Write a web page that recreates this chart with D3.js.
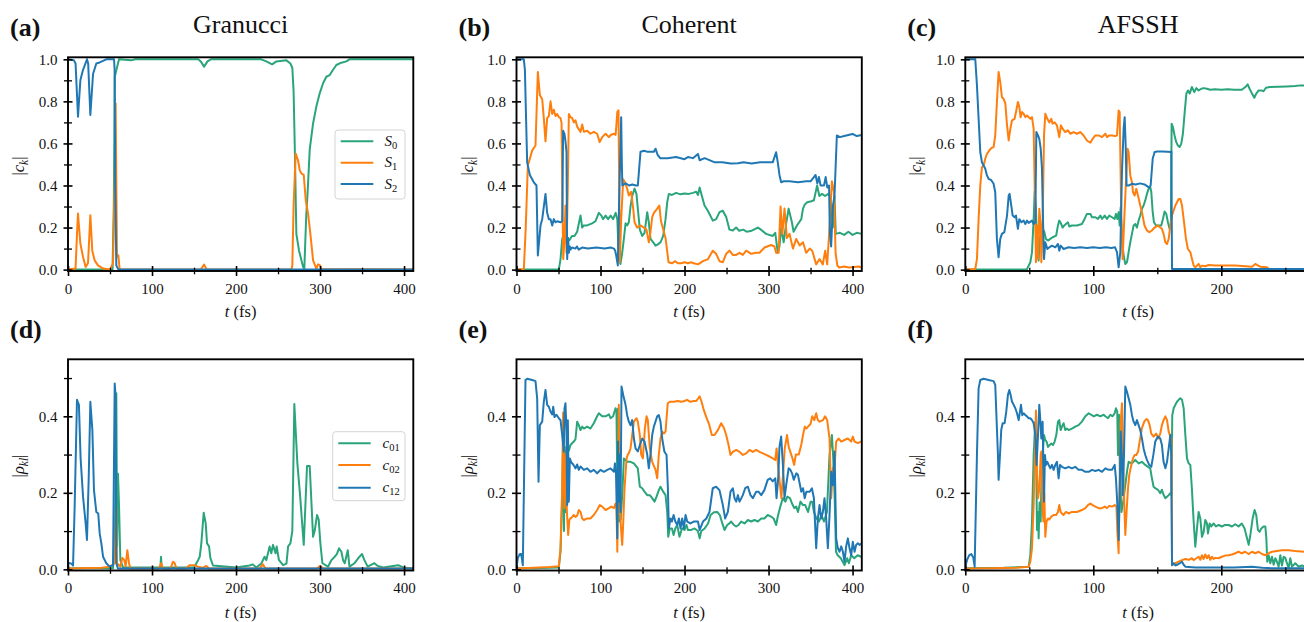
<!DOCTYPE html>
<html><head><meta charset="utf-8">
<script src="https://cdn.jsdelivr.net/npm/d3@7"></script>
<style>
html,body{margin:0;padding:0;background:#fff;}
svg{display:block;}
text{font-family:"Liberation Serif","DejaVu Serif",serif;fill:#111;}
</style></head><body>
<svg id="fig" width="1304" height="622"></svg>
<script>
// ---- labels and ticks ----
const methods = ["Granucci", "Coherent", "AFSSH"];
const panelLetters = [["(a)", "(b)", "(c)"], ["(d)", "(e)", "(f)"]];
const popMajorTicks = [0, 0.2, 0.4, 0.6, 0.8, 1.0];
const popMinorTicks = [0.1, 0.3, 0.5, 0.7, 0.9];
const cohMajorTicks = [0, 0.2, 0.4];
const cohMinorTicks = [0.1, 0.3, 0.5];
const timeMajorLong = [0, 100, 200, 300, 400];
const timeMinorLong = [50, 150, 250, 350];
const timeMajorShort = [0, 100, 200];
const timeMinorShort = [50, 150, 250];
const tMaxLong = 411, tMaxShort = 270;
const popLegend = ["0", "1", "2"];
const cohLegend = ["01", "02", "12"];

// ---- |c_k| : Granucci ----
const granS0 = [[0,0],[53,0],[54.5,0.3],[55.7,0.917],[57,0.94],[60.7,1.0],[75,0.995],[80,1.0],[155,1.0],[158,0.99],[162,0.965],[166,0.99],[170,1.0],[230,1.0],[236,0.99],[243,0.976],[248,0.99],[260,0.995],[264.7,0.98],[267,0.96],[268.5,0.85],[270,0.57],[271.8,0.17],[275,0.09],[279.8,0.013],[281.3,0.005],[283.5,0.25],[285.5,0.39],[287.7,0.57],[291.7,0.695],[295.6,0.775],[299.6,0.838],[303.6,0.886],[307.5,0.917],[311.5,0.925],[315.5,0.95],[319.4,0.973],[325.4,0.984],[331.3,0.99],[335,1.0],[411,1.0]];
const granS1 = [[0,0],[9,0.005],[10.5,0.15],[11.9,0.267],[14.7,0.124],[17.9,0.06],[21,0.013],[23.8,0.03],[26.6,0.259],[28.9,0.09],[31.7,0.044],[35.7,0.02],[41.7,0.005],[50,0.0],[53.6,0.03],[55.5,0.4],[56.7,0.79],[58.3,0.06],[59.9,0.068],[61.5,0.0],[158,0],[162,0.024],[165,0],[266,0],[267,0.02],[268.5,0.3],[271,0.552],[273.8,0.52],[275.8,0.473],[277.8,0.457],[280.6,0.45],[283,0.33],[285.7,0.267],[288.5,0.17],[291.7,0.044],[295.6,0.005],[297.6,0.025],[300,0.02],[301.6,0.003],[411,0]];
const granS2 = [[0,1.0],[7,0.995],[9,0.98],[11.9,0.727],[14.7,0.9],[17.9,0.95],[22.6,1.0],[24,0.98],[26.6,0.735],[29.8,0.93],[33.7,0.98],[37.7,0.985],[45.6,1.0],[54.8,1.0],[55.5,0.95],[56.2,0.4],[57.5,0.02],[60,0.0],[411,0.0]];

// ---- |c_k| : Coherent ----
const cohS0 = [[0,0],[50.4,0],[52.4,0.05],[54.4,0.146],[56,0.16],[58,0.14],[61,0.14],[63,0.14],[66,0.16],[69,0.16],[72.2,0.18],[74.2,0.22],[76.2,0.257],[78.2,0.2],[80,0.21],[84,0.21],[90,0.22],[94,0.23],[98,0.27],[101,0.257],[103,0.24],[106,0.257],[109,0.24],[112,0.257],[115,0.24],[118,0.27],[120,0.24],[121.8,0.05],[123.8,0.027],[125.8,0.08],[127.8,0.146],[129.8,0.22],[131.7,0.21],[133.7,0.225],[135.7,0.3],[137.7,0.35],[140.5,0.385],[142.8,0.36],[144.4,0.29],[146.8,0.19],[149.6,0.16],[152.4,0.175],[155.6,0.273],[157.5,0.225],[159.5,0.146],[162.7,0.13],[165.5,0.114],[168.3,0.12],[171.4,0.13],[174.6,0.16],[177.4,0.24],[179.4,0.32],[181.3,0.36],[185,0.355],[190,0.365],[195,0.358],[200,0.362],[205,0.36],[210,0.365],[214,0.37],[216,0.355],[218,0.39],[220,0.36],[223.8,0.305],[227.7,0.28],[233.7,0.233],[237.7,0.24],[241.6,0.273],[245.6,0.28],[249.6,0.25],[253.5,0.19],[257.5,0.186],[261.4,0.2],[265,0.185],[270,0.19],[274,0.18],[280,0.185],[287.3,0.2],[291,0.19],[297,0.17],[305,0.16],[308,0.175],[311,0.08],[313,0.11],[315,0.2],[318,0.13],[321,0.22],[323.9,0.29],[327.8,0.225],[329.8,0.18],[333.8,0.21],[339,0.24],[341,0.29],[343.2,0.31],[346,0.32],[351,0.325],[354,0.33],[357.8,0.4],[360.5,0.35],[363.6,0.36],[367.3,0.35],[371,0.36],[373,0.35],[375,0.3],[376.5,0.2],[378.5,0.35],[380,0.17],[385,0.175],[390,0.165],[395,0.18],[400,0.165],[405,0.175],[411,0.17]];
const cohS1 = [[0,0],[8.7,0],[11,0.2],[13.5,0.495],[15.9,0.527],[18.7,0.567],[21.4,0.583],[22.6,0.59],[25.4,0.94],[27.8,0.83],[30.6,0.81],[32.5,0.72],[34.5,0.61],[36.5,0.72],[38.5,0.73],[40.5,0.8],[42.5,0.74],[44.4,0.76],[46.4,0.73],[48.4,0.74],[50.4,0.725],[52.4,0.72],[53.6,0.7],[55.6,0.05],[57.1,0.146],[58.3,0.305],[59.5,0.08],[61.1,0.4],[62.3,0.74],[64.3,0.725],[66.3,0.72],[68.3,0.7],[70.2,0.71],[72.2,0.68],[76.2,0.655],[78.2,0.69],[80.2,0.655],[84.1,0.66],[88,0.646],[92,0.655],[96,0.646],[99,0.606],[102,0.63],[106,0.646],[110,0.63],[112,0.64],[116,0.646],[118,0.64],[120,0.75],[121.4,0.757],[123,0.035],[124.6,0.24],[127,0.43],[129,0.415],[131.7,0.385],[133.7,0.352],[136.5,0.37],[138.9,0.29],[140.5,0.225],[143.6,0.2],[147.6,0.21],[151.6,0.2],[154.7,0.19],[157.5,0.13],[159.5,0.18],[161.5,0.25],[163.5,0.27],[167.5,0.29],[170,0.305],[172,0.23],[175.4,0.18],[177.4,0.15],[181,0.035],[185,0.03],[189,0.04],[192,0.03],[196,0.03],[200,0.035],[204,0.03],[208,0.035],[211,0.03],[216,0.025],[222,0.04],[228,0.05],[233.6,0.09],[237.6,0.075],[241.6,0.04],[245.6,0.035],[249.6,0.075],[253.5,0.09],[257.5,0.07],[261.5,0.07],[265.5,0.08],[269.4,0.07],[273.4,0.09],[279.4,0.075],[285.3,0.08],[289.3,0.08],[295.2,0.105],[303,0.117],[307,0.11],[309,0.08],[312,0.08],[314.3,0.3],[316.5,0.17],[319,0.29],[321.8,0.15],[325,0.17],[329,0.1],[333,0.146],[337,0.115],[341,0.13],[344.8,0.08],[349,0.1],[352,0.09],[356.7,0.025],[360.7,0.05],[364.6,0.025],[367.4,0.09],[369.8,0.025],[372.6,0.2],[375.4,0.42],[377.9,0.37],[379.8,0.08],[381.8,0.02],[384,0.01],[390,0.015],[396,0.01],[402,0.012],[407,0.015],[411,0.01]];
const cohS2 = [[0,1.0],[8.7,1.0],[10,0.95],[11.5,0.7],[12.7,0.51],[15.9,0.45],[20.6,0.415],[23.8,0.4],[25.4,0.067],[28.6,0.21],[30.6,0.24],[34.5,0.36],[36.5,0.27],[38.5,0.24],[40.5,0.24],[42.5,0.21],[44.4,0.24],[46.4,0.225],[48.4,0.23],[52.4,0.225],[54.4,0.23],[55.5,0.66],[57.1,0.645],[58.3,0.61],[59.5,0.56],[60.3,0.05],[61.5,0.15],[62.3,0.08],[63.5,0.11],[64.3,0.095],[66,0.105],[70,0.1],[72,0.11],[74,0.095],[78,0.105],[85,0.1],[95,0.105],[105,0.1],[112,0.105],[116,0.1],[117.5,0.09],[119,0.06],[120.6,0.02],[122,0.3],[124.6,0.725],[125.4,0.5],[126,0.4],[130,0.41],[134,0.4],[138,0.405],[142,0.4],[144.4,0.4],[147.6,0.56],[152,0.565],[156,0.56],[160,0.56],[163.5,0.56],[165.5,0.575],[168,0.545],[171,0.53],[180,0.53],[190,0.535],[200,0.525],[204,0.535],[210,0.53],[216,0.55],[218,0.52],[224,0.53],[236,0.51],[245,0.51],[255,0.505],[263.5,0.506],[270,0.51],[280,0.505],[290,0.51],[299,0.51],[305,0.51],[309,0.558],[311,0.51],[313,0.45],[315,0.415],[318,0.42],[325,0.42],[335,0.415],[345,0.42],[350,0.42],[354,0.44],[356,0.45],[358,0.41],[360,0.44],[362,0.4],[366,0.4],[368,0.44],[370,0.39],[372,0.4],[373,0.177],[374.5,0.11],[376.5,0.3],[378.5,0.35],[381.3,0.638],[385,0.63],[390,0.635],[395,0.64],[400,0.645],[405,0.635],[411,0.64]];

// ---- |c_k| : AFSSH ----
const afsS0 = [[0,0],[48,0],[50.8,0.035],[52.1,0.083],[53.4,0.24],[54.2,0.37],[55.2,0.289],[56.3,0.083],[57.3,0.043],[58.1,0.146],[59.1,0.17],[60.4,0.194],[61.7,0.18],[63,0.146],[64.6,0.138],[66.4,0.146],[68.2,0.154],[71,0.162],[72.4,0.21],[73.4,0.233],[74.7,0.22],[76,0.2],[77.3,0.21],[78.6,0.217],[80.2,0.225],[81.2,0.205],[83.3,0.21],[87.2,0.21],[91.1,0.217],[93.2,0.241],[95,0.265],[97.7,0.265],[99,0.249],[101.6,0.249],[103.6,0.241],[105.5,0.257],[106.8,0.241],[108.9,0.257],[110.7,0.241],[112.5,0.257],[114.6,0.249],[116.7,0.241],[117.7,0.265],[118.8,0.241],[119.8,0.273],[120.6,0.21],[121.4,0.297],[122.4,0.146],[123.7,0.067],[125,0.027],[126.3,0.035],[127.6,0.083],[128.9,0.13],[130.2,0.17],[131.5,0.21],[132.8,0.217],[134.1,0.2],[135.4,0.233],[136.7,0.257],[138,0.289],[139.3,0.305],[140.6,0.329],[141.9,0.36],[143.2,0.384],[144.5,0.392],[145.3,0.37],[146.4,0.273],[147.4,0.225],[149,0.21],[151,0.21],[153.1,0.21],[154.4,0.241],[155.7,0.276],[157,0.265],[158.3,0.225],[159.6,0.194],[160.6,0.21],[161.2,0.694],[162.2,0.678],[163.5,0.638],[164.8,0.606],[166.1,0.59],[167.4,0.583],[168.7,0.598],[170,0.646],[171.4,0.749],[172.7,0.837],[174,0.852],[175.3,0.837],[177,0.868],[178.9,0.844],[180.5,0.863],[182.3,0.852],[184.4,0.86],[186.2,0.863],[188.8,0.86],[191.4,0.855],[195,0.858],[200,0.855],[205,0.858],[210,0.855],[216,0.855],[218.8,0.868],[220.6,0.881],[222.1,0.86],[224,0.837],[225.8,0.817],[227.3,0.837],[229.2,0.852],[231.3,0.852],[233,0.848],[234.9,0.865],[238,0.868],[244.8,0.87],[251,0.871],[257.8,0.873],[261.7,0.876],[270,0.876]];
const afsS1 = [[0,0],[7.8,0.003],[9.1,0.05],[10.4,0.24],[11.7,0.4],[13,0.487],[14.3,0.495],[15.6,0.527],[16.9,0.55],[18.8,0.567],[20.3,0.578],[22.1,0.583],[23.4,0.638],[24.7,0.797],[26,0.94],[27.3,0.892],[28.6,0.82],[29.9,0.813],[31.3,0.789],[32.6,0.686],[33.9,0.614],[35.2,0.67],[36.5,0.71],[38.5,0.717],[39.6,0.749],[41.1,0.797],[42.2,0.773],[43.2,0.725],[44.3,0.749],[45.6,0.741],[46.9,0.725],[48.2,0.733],[49.5,0.725],[50.8,0.717],[52.1,0.725],[53.4,0.67],[54.2,0.4],[55.2,0.035],[56.3,0.21],[57,0.05],[57.8,0.289],[58.9,0.21],[59.4,0.035],[60.4,0.21],[61.5,0.638],[62.5,0.741],[64.1,0.717],[65.6,0.7],[67.2,0.717],[68.2,0.694],[69.8,0.7],[71.6,0.686],[73.4,0.63],[74.7,0.686],[76,0.67],[78.1,0.654],[80.2,0.662],[82,0.646],[84.6,0.654],[87.2,0.646],[89.8,0.654],[92.4,0.638],[95,0.614],[97.7,0.603],[99.5,0.622],[101.6,0.638],[104.2,0.638],[106.8,0.63],[109.4,0.646],[110.7,0.63],[112.5,0.638],[114.6,0.638],[117.2,0.635],[118.5,0.638],[119.8,0.757],[120.6,0.749],[121.9,0.241],[122.9,0.05],[124.2,0.241],[125.5,0.416],[126.8,0.575],[127.6,0.559],[128.9,0.448],[130.2,0.416],[131,0.368],[132.3,0.352],[133.6,0.384],[134.9,0.352],[136.7,0.305],[138,0.273],[140,0.21],[141.9,0.186],[143.7,0.178],[145.8,0.186],[147.9,0.2],[150.5,0.21],[152.3,0.2],[153.6,0.194],[154.9,0.17],[156.3,0.13],[157.6,0.122],[158.9,0.146],[160.2,0.21],[161.5,0.257],[164.1,0.305],[166.7,0.336],[168,0.336],[169.3,0.305],[170.6,0.24],[172.4,0.146],[173.9,0.098],[175.8,0.083],[177.1,0.05],[178.4,0.019],[179.7,0.011],[181,0.019],[182.3,0.027],[183.6,0.011],[184.9,0.019],[187.5,0.016],[190.1,0.022],[195.3,0.019],[203,0.019],[210.9,0.019],[218.8,0.016],[224,0.014],[226.6,0.027],[227.9,0.022],[230.5,0.014],[235.7,0.011],[237,0.003],[270,0.003]];
const afsS2 = [[0,1.0],[7.8,1.0],[9.1,0.876],[10.4,0.717],[11.7,0.559],[13,0.51],[14.3,0.495],[15.6,0.48],[16.9,0.448],[18.2,0.432],[20.3,0.425],[22.1,0.408],[23.4,0.368],[24.7,0.146],[26,0.059],[27.3,0.146],[28.6,0.17],[30.5,0.178],[32.6,0.257],[33.9,0.352],[34.6,0.36],[35.9,0.305],[37,0.257],[38.5,0.249],[39.6,0.257],[41.1,0.194],[42.2,0.24],[43.8,0.225],[45.6,0.233],[46.9,0.217],[48.2,0.233],[49.5,0.222],[52.1,0.233],[53.4,0.217],[54.7,0.225],[55.5,0.654],[56.8,0.638],[57.8,0.622],[58.9,0.575],[59.9,0.48],[60.7,0.241],[61.5,0.05],[62.5,0.13],[63.3,0.114],[64.1,0.098],[65.6,0.106],[67.7,0.114],[70.3,0.106],[72.4,0.122],[73.4,0.09],[74.5,0.114],[76.8,0.098],[80.7,0.106],[85,0.103],[90,0.106],[95,0.103],[100,0.106],[105,0.103],[110,0.106],[114,0.103],[117,0.106],[118.5,0.083],[119.8,0.011],[121.1,0.083],[122.4,0.463],[123.7,0.67],[124.5,0.725],[125.3,0.59],[126,0.4],[127.6,0.4],[130.2,0.408],[133,0.405],[136.7,0.41],[140,0.405],[143.7,0.39],[144.8,0.4],[146.4,0.527],[147.9,0.559],[150,0.562],[154,0.562],[158,0.56],[160.2,0.559],[161,0.562],[161.5,0.003],[270,0.003]];

// ---- |rho_kl| : Granucci ----
const granC01 = [[0,0.003],[53.6,0.003],[56,0.1],[57.5,0.46],[58.5,0.06],[59.5,0.25],[60.7,0.17],[62.3,0.024],[65.5,0.005],[75,0.005],[110,0.005],[110.7,0.033],[111.5,0.005],[150,0.005],[154.8,0.024],[156.8,0.033],[158.7,0.068],[161.5,0.148],[163.9,0.12],[165.5,0.068],[167.9,0.06],[169.4,0.03],[172.6,0.01],[200,0.005],[216,0.01],[220,0.013],[224,0.005],[230,0.015],[234,0.033],[236,0.024],[240,0.06],[242,0.042],[244,0.064],[247,0.042],[248.4,0.06],[251,0.025],[256,0.011],[260,0.015],[262,0.06],[264.7,0.068],[267,0.1],[269.4,0.432],[273,0.277],[276,0.2],[280.6,0.064],[284.5,0.27],[287.7,0.27],[291.7,0.085],[293.6,0.1],[296.4,0.142],[298.4,0.13],[300.4,0.068],[302.8,0.016],[309.5,0.007],[313.5,0.024],[317.5,0.033],[320,0.04],[322.6,0.055],[325.4,0.046],[327.4,0.024],[329.4,0.016],[333,0.05],[335,0.007],[341,0.016],[347,0.033],[350,0.04],[352.8,0.024],[356.7,0.007],[364.7,0.016],[368.7,0.009],[375,0.005],[393,0.011],[399,0.005],[411,0.002]];
const granC02 = [[0,0.002],[40,0.004],[49.6,0.007],[55.6,0.016],[57.5,0.164],[58.3,0.016],[62.3,0.007],[64.7,0.03],[67,0.024],[68.6,0.007],[70.6,0.05],[72.6,0.016],[74.2,0.002],[108,0.002],[111,0.016],[113,0.002],[122,0.002],[125,0.02],[127,0.016],[129,0.002],[140,0.002],[145,0.011],[150,0.011],[154.8,0.007],[160,0.004],[164.7,0.009],[168,0.002],[228,0.002],[232,0.013],[235,0.002],[296,0.002],[300,0.009],[304,0.002],[411,0.002]];
const granC12 = [[0,0.011],[1.2,0.017],[4,0.015],[6,0.01],[8,0.17],[10.7,0.443],[13,0.43],[15,0.29],[17.9,0.19],[21,0.12],[22.6,0.077],[24.6,0.234],[26.6,0.438],[29,0.364],[30.9,0.207],[33.7,0.15],[36,0.146],[37.7,0.094],[39.7,0.068],[41.7,0.033],[45.6,0.016],[49.6,0.007],[53.6,0.011],[55.6,0.486],[56.7,0.45],[57.5,0.016],[59.5,0.002],[411,0.002]];

// ---- |rho_kl| : Coherent ----
const cohC01 = [[0,0.003],[20,0.003],[40,0.004],[50.4,0.005],[52.4,0.046],[54.4,0.194],[55.5,0.35],[56.5,0.1],[57.5,0.32],[58.5,0.15],[59.5,0.3],[61,0.33],[62.3,0.31],[64.3,0.325],[66.3,0.33],[68.3,0.334],[70.2,0.34],[72.2,0.386],[74.2,0.377],[76.2,0.364],[78.2,0.373],[80.2,0.368],[84.1,0.373],[88,0.368],[92,0.382],[96,0.4],[98,0.408],[102,0.4],[106,0.4],[110,0.405],[112,0.395],[115,0.4],[117.9,0.421],[119,0.41],[120,0.23],[120.6,0.42],[121.8,0.125],[124,0.13],[126,0.2],[127.8,0.29],[131.7,0.281],[135.7,0.281],[139.7,0.277],[144.4,0.264],[146.8,0.216],[149.6,0.212],[152.4,0.203],[155.6,0.194],[158.7,0.194],[161.5,0.186],[164.3,0.177],[166.7,0.19],[169.4,0.207],[171.4,0.216],[174.6,0.203],[177.4,0.194],[179.4,0.15],[180.6,0.085],[182.5,0.107],[185,0.107],[187,0.09],[189,0.107],[191.3,0.116],[194,0.085],[197,0.107],[200,0.103],[202.4,0.116],[204,0.103],[208,0.103],[212,0.107],[216,0.1],[218,0.081],[220,0.1],[224,0.107],[228,0.12],[231.1,0.142],[235,0.149],[239,0.15],[242,0.142],[245,0.12],[247.6,0.103],[250.8,0.116],[253.5,0.12],[255.5,0.125],[258.7,0.116],[261.5,0.112],[264.3,0.116],[267.4,0.125],[271.4,0.12],[275.4,0.129],[279.4,0.125],[283.3,0.129],[287.3,0.125],[291.3,0.133],[295,0.133],[299,0.142],[303,0.138],[306,0.133],[309,0.116],[311,0.138],[314,0.164],[317,0.186],[320,0.177],[322.4,0.19],[325.5,0.186],[328,0.172],[330.6,0.16],[333,0.164],[335,0.15],[338,0.177],[341,0.168],[343.6,0.168],[347,0.15],[350,0.177],[352,0.177],[354,0.15],[357,0.133],[360,0.125],[363,0.142],[366,0.125],[369.5,0.15],[372.6,0.3],[375.4,0.351],[377,0.29],[378.6,0.194],[380.3,0.046],[382.3,0.037],[386,0.029],[390.4,0.011],[393.6,0.029],[395.6,0.016],[398.4,0.037],[402,0.029],[406,0.037],[410,0.033],[411,0.035]];
const cohC02 = [[0,0.002],[20,0.004],[40,0.006],[50.4,0.008],[52.4,0.055],[54.4,0.212],[55.5,0.41],[57,0.16],[58.7,0.3],[60,0.15],[61.5,0.09],[63,0.13],[64.3,0.133],[66.3,0.137],[68.3,0.142],[70.2,0.137],[72.2,0.14],[74.2,0.155],[76.2,0.15],[78.2,0.133],[80.2,0.129],[84.1,0.133],[88,0.133],[92,0.142],[96,0.155],[99.2,0.168],[102,0.164],[106,0.155],[110,0.16],[112.7,0.164],[116,0.16],[117.9,0.172],[119,0.16],[120,0.046],[121,0.25],[121.8,0.43],[123,0.2],[124,0.12],[125.8,0.064],[127,0.12],[128.6,0.212],[131,0.29],[132.5,0.3],[134,0.305],[135.7,0.316],[137.7,0.351],[139.7,0.386],[142.9,0.395],[144.4,0.386],[146.8,0.351],[148.4,0.3],[150.4,0.29],[152.8,0.369],[154.8,0.4],[156.3,0.39],[158.7,0.316],[161.5,0.281],[165.5,0.26],[167.5,0.238],[169.4,0.3],[171.4,0.342],[173.4,0.36],[175.4,0.355],[177.4,0.36],[180,0.434],[182.5,0.438],[187,0.438],[192,0.44],[196,0.438],[200,0.44],[203,0.443],[207,0.438],[211,0.44],[214,0.44],[218,0.452],[220,0.44],[223,0.416],[225.6,0.4],[229.4,0.378],[232.5,0.351],[235.7,0.351],[239.7,0.364],[243.6,0.382],[246.8,0.37],[249.6,0.351],[252.4,0.325],[254.7,0.299],[257.5,0.307],[261.5,0.312],[265.5,0.307],[269.4,0.299],[273.4,0.303],[277.3,0.312],[281.3,0.307],[285.3,0.312],[289.3,0.307],[293.3,0.303],[297.2,0.299],[301,0.295],[305,0.29],[308,0.286],[309.6,0.316],[311.2,0.273],[313.2,0.23],[315.3,0.186],[317.3,0.25],[319.3,0.316],[322,0.351],[324,0.32],[326.5,0.303],[328.5,0.29],[330.5,0.273],[332.5,0.3],[336,0.3],[338.9,0.325],[341,0.351],[343.2,0.373],[345,0.368],[347,0.373],[350,0.38],[352,0.4],[354.4,0.39],[356.7,0.408],[358.7,0.39],[360.7,0.386],[364.7,0.39],[367.3,0.4],[369.8,0.39],[372.6,0.342],[374.6,0.186],[376.6,0.264],[378.6,0.27],[380.5,0.334],[383.3,0.342],[386.5,0.334],[390.4,0.338],[394.4,0.342],[398.4,0.334],[400.3,0.347],[402.4,0.334],[406.3,0.33],[410,0.334],[411,0.333]];
const cohC12 = [[0,0.003],[1.6,0.03],[4,0.04],[5.6,0.04],[7.5,0.011],[10.7,0.495],[12.7,0.498],[18.7,0.495],[22.6,0.492],[24.6,0.447],[26.2,0.229],[27.8,0.377],[30.6,0.386],[32.5,0.438],[34.5,0.469],[36.5,0.43],[38.5,0.425],[40.5,0.412],[42.5,0.405],[43.7,0.425],[45.2,0.398],[47.6,0.404],[50.4,0.395],[52.4,0.39],[54.4,0.351],[56.3,0.308],[57.1,0.42],[58.3,0.434],[59.5,0.36],[60.3,0.168],[61.1,0.39],[62.3,0.177],[63.5,0.29],[65.1,0.28],[67.5,0.274],[70.2,0.264],[72.2,0.274],[74.2,0.26],[76.2,0.269],[80.2,0.26],[84.1,0.264],[88,0.255],[92,0.26],[96,0.251],[100,0.26],[104,0.255],[108,0.26],[112,0.264],[116,0.255],[117.2,0.277],[118.4,0.255],[120,0.081],[120.8,0.334],[121.8,0.177],[123,0.3],[123.8,0.15],[125,0.478],[127,0.456],[129.8,0.43],[131.7,0.403],[133.7,0.386],[135.7,0.377],[137.7,0.39],[139.7,0.342],[141.7,0.316],[144.4,0.308],[146.8,0.325],[149.6,0.342],[152.4,0.334],[155.6,0.3],[157.5,0.264],[159.5,0.3],[161.5,0.351],[163.5,0.373],[167.5,0.4],[169.4,0.403],[171.4,0.386],[173.4,0.342],[176,0.308],[178.6,0.299],[180.2,0.212],[181.3,0.107],[183.3,0.133],[185,0.125],[187,0.142],[189,0.125],[191.3,0.116],[193.3,0.133],[195.2,0.107],[197.2,0.133],[199.2,0.107],[201.2,0.142],[203.2,0.125],[207,0.12],[211,0.125],[216,0.125],[218,0.103],[222,0.125],[226,0.133],[229.7,0.15],[233.6,0.212],[237.6,0.216],[241.6,0.207],[245.6,0.168],[248.4,0.133],[251.6,0.15],[254.7,0.203],[257.5,0.212],[259.5,0.186],[261.5,0.177],[263.5,0.194],[265.5,0.177],[269.4,0.194],[272.2,0.212],[275.4,0.216],[278.5,0.194],[281.3,0.186],[285.3,0.203],[288,0.203],[291.3,0.194],[295,0.207],[299,0.234],[302,0.238],[305,0.23],[308,0.238],[309.5,0.186],[311.5,0.238],[313,0.32],[315,0.347],[317,0.277],[319,0.186],[321,0.22],[323.9,0.264],[326,0.26],[328,0.251],[330,0.234],[333,0.251],[335,0.247],[337,0.225],[339,0.203],[341,0.212],[343,0.186],[345,0.203],[349,0.203],[351.6,0.212],[354,0.186],[356.7,0.055],[358.7,0.133],[360.7,0.168],[362.7,0.133],[364.7,0.15],[366.6,0.186],[368.6,0.133],[370.6,0.055],[372.6,0.142],[374.6,0.255],[376.6,0.22],[378.6,0.308],[380.5,0.081],[382.5,0.055],[384.5,0.046],[386.5,0.06],[388.5,0.046],[390.4,0.02],[392.4,0.06],[394.4,0.081],[396.4,0.055],[398.4,0.037],[400.3,0.072],[402.4,0.046],[404.3,0.064],[406.3,0.068],[408.3,0.064],[411,0.068]];

// ---- |rho_kl| : AFSSH ----
const afsC01 = [[0,0.003],[30,0.004],[49.5,0.007],[50.8,0.037],[52.1,0.125],[53.4,0.299],[54.7,0.386],[55.2,0.34],[56,0.103],[56.8,0.15],[57.3,0.081],[58,0.175],[58.9,0.125],[59.6,0.255],[60.4,0.299],[61.5,0.351],[62.5,0.338],[63.5,0.334],[64.6,0.32],[65.9,0.325],[67.2,0.329],[68.5,0.325],[69.8,0.334],[71.1,0.351],[72.4,0.386],[73.4,0.39],[74.5,0.364],[75.5,0.373],[76.8,0.382],[78.1,0.364],[79.4,0.368],[80.7,0.364],[83.3,0.368],[85.9,0.373],[88.5,0.377],[91.1,0.386],[93.8,0.4],[96.4,0.408],[98.4,0.404],[100.3,0.4],[102.9,0.404],[105.5,0.4],[108.1,0.404],[109.4,0.4],[111.5,0.395],[113.3,0.404],[115.1,0.4],[116.7,0.408],[117.7,0.421],[118.7,0.412],[119.3,0.299],[120.1,0.404],[120.8,0.25],[122,0.15],[123.5,0.18],[125,0.22],[126.5,0.26],[127.6,0.281],[130.2,0.277],[132.8,0.286],[135.4,0.277],[138,0.281],[140.6,0.273],[142.7,0.268],[144.5,0.264],[145.8,0.238],[147.1,0.216],[148.4,0.212],[150.5,0.208],[152.3,0.199],[153.6,0.208],[154.9,0.195],[156.3,0.186],[157.6,0.19],[158.9,0.194],[160.2,0.199],[161,0.194],[161.7,0.403],[162.8,0.421],[164.1,0.43],[165.4,0.438],[166.7,0.443],[168,0.447],[169.3,0.443],[170.6,0.421],[171.9,0.351],[173.2,0.29],[174.5,0.277],[175.8,0.273],[177,0.212],[178.4,0.125],[179.7,0.059],[181,0.107],[182.3,0.15],[183.6,0.133],[184.9,0.085],[186.2,0.098],[187.5,0.129],[188.8,0.12],[189.6,0.094],[190.9,0.12],[192.2,0.112],[194,0.12],[195.8,0.112],[197.9,0.116],[200.5,0.112],[203,0.116],[205.7,0.116],[208.3,0.112],[210.9,0.118],[213.5,0.112],[216,0.12],[218.2,0.107],[220.1,0.081],[221.4,0.064],[222.7,0.09],[224.5,0.133],[226,0.155],[227.3,0.142],[228.6,0.103],[229.9,0.098],[231.3,0.107],[233,0.112],[234.4,0.112],[235.2,0.081],[235.9,0.02],[237,0.037],[238.3,0.016],[239.6,0.033],[240.9,0.012],[242.2,0.029],[243.5,0.02],[244.8,0.007],[246.1,0.037],[247.4,0.01],[248.7,0.033],[250,0.03],[251.3,0.016],[252.6,0.003],[253.9,0.029],[255.2,0.007],[257.8,0.016],[260.4,0.007],[263,0.01],[265.6,0.007],[270,0.005]];
const afsC02 = [[0,0.002],[20,0.003],[40,0.004],[49.5,0.007],[50.8,0.02],[52.1,0.055],[53.4,0.168],[54.7,0.342],[55.2,0.415],[56,0.25],[56.8,0.186],[57.8,0.21],[58.9,0.299],[59.4,0.308],[60.2,0.168],[61,0.125],[61.7,0.2],[62.5,0.085],[63.5,0.125],[64.6,0.133],[65.6,0.13],[67.2,0.138],[69,0.142],[71,0.142],[72.4,0.15],[73.4,0.168],[74.5,0.15],[75.5,0.146],[76.8,0.142],[78.6,0.15],[80.7,0.146],[83.3,0.15],[87.2,0.15],[91.1,0.155],[93.8,0.16],[95.8,0.168],[97.7,0.172],[99.5,0.168],[101.6,0.164],[104.2,0.16],[106.8,0.16],[108.9,0.164],[110.7,0.16],[112.5,0.166],[114.6,0.164],[116.7,0.168],[118.1,0.164],[118.8,0.098],[119.8,0.042],[120.3,0.168],[121.4,0.386],[122.4,0.434],[123.2,0.3],[124.2,0.168],[125,0.09],[126,0.15],[127.1,0.212],[128.1,0.247],[129.7,0.273],[131,0.29],[132.3,0.299],[133.6,0.299],[135,0.308],[136.2,0.334],[138,0.369],[139.8,0.386],[141.4,0.393],[142.7,0.39],[144,0.377],[145.3,0.355],[147.1,0.347],[149,0.355],[151,0.342],[152.3,0.355],[153.6,0.377],[154.9,0.39],[156.3,0.4],[157.6,0.39],[158.9,0.36],[160.2,0.347],[161,0.34],[161.5,0.011],[164,0.016],[166.7,0.02],[169.3,0.024],[171.9,0.027],[174.5,0.025],[177,0.029],[178.4,0.024],[179.7,0.027],[182.3,0.033],[183.6,0.025],[184.9,0.037],[186.2,0.027],[187.5,0.039],[188.8,0.029],[190.1,0.037],[191.4,0.025],[192.7,0.033],[194,0.027],[195.3,0.03],[197.9,0.029],[200.5,0.033],[203,0.036],[205.7,0.037],[208.3,0.039],[210.9,0.042],[213.5,0.046],[216,0.042],[218.6,0.046],[221.2,0.04],[224,0.046],[226.6,0.042],[229.2,0.046],[231.8,0.04],[234.4,0.037],[237,0.042],[239.6,0.046],[243.5,0.048],[247.4,0.05],[252.6,0.05],[257.8,0.048],[264.6,0.046],[270,0.046]];
const afsC12 = [[0,0.007],[1.3,0.024],[3.1,0.037],[4.7,0.04],[6.3,0.03],[7.3,0.007],[9.1,0.3],[10.4,0.473],[11.7,0.495],[14.3,0.498],[18.2,0.495],[22.1,0.492],[23.4,0.482],[24.5,0.386],[25.5,0.299],[26,0.234],[27.1,0.299],[28.1,0.365],[29.2,0.382],[30.7,0.382],[32,0.412],[33.3,0.456],[34.4,0.469],[35.4,0.456],[36.5,0.438],[37.8,0.43],[39.1,0.421],[40.4,0.408],[41.7,0.39],[42.7,0.412],[43.5,0.43],[44.5,0.403],[45.6,0.408],[46.9,0.403],[48.2,0.4],[49.5,0.395],[50.8,0.395],[52.1,0.39],[53.4,0.382],[54.7,0.351],[55.7,0.273],[56.8,0.351],[57.8,0.43],[58.6,0.39],[59.4,0.342],[60.4,0.386],[61.5,0.177],[62.2,0.299],[63,0.273],[64.1,0.281],[65.1,0.273],[66.4,0.264],[67.7,0.273],[69,0.26],[70.3,0.273],[71.6,0.281],[72.9,0.238],[74,0.273],[75.5,0.268],[78.1,0.264],[80.7,0.268],[83.3,0.264],[85.9,0.268],[88.5,0.26],[91.1,0.26],[93.8,0.255],[96.4,0.255],[99,0.26],[101.6,0.257],[104.2,0.26],[106.8,0.255],[109.4,0.264],[112,0.26],[114.6,0.26],[116.7,0.273],[117.7,0.238],[118.8,0.168],[119.8,0.077],[120.6,0.194],[121.4,0.36],[122.2,0.3],[122.9,0.194],[124,0.3],[125,0.478],[126.3,0.464],[127.6,0.447],[128.9,0.43],[130.2,0.403],[131.5,0.386],[132.8,0.377],[134.1,0.39],[135.4,0.377],[136.7,0.364],[138,0.342],[139.3,0.316],[140.6,0.299],[141.9,0.286],[143.7,0.273],[145.3,0.268],[146.9,0.299],[148.4,0.334],[150.5,0.347],[152.3,0.342],[153.6,0.325],[154.9,0.281],[156.3,0.264],[157.6,0.281],[158.9,0.316],[160.2,0.351],[160.9,0.3],[161.5,0.011],[162.8,0.016],[164.1,0.01],[166.7,0.014],[169.3,0.02],[170.6,0.012],[171.9,0.007],[180,0.005],[195,0.005],[210,0.005],[224,0.007],[232,0.004],[239.6,0.003],[270,0.003]];

// ---- drawing ----
const COLORS = ["#2aa57a", "#ff7f0e", "#1f77b4"];
const svg = d3.select("#fig");

const colLayout = [
  {x0: 68.0, x1: 413.3, tmax: tMaxLong, major: timeMajorLong, minor: timeMinorLong},
  {x0: 516.5, x1: 861.8, tmax: tMaxLong, major: timeMajorLong, minor: timeMinorLong},
  {x0: 965.3, x1: 1310.9, tmax: tMaxShort, major: timeMajorShort, minor: timeMinorShort}
];
const rowLayout = [
  {top: 57.3, bottom: 271.0, ymin: -0.0066, ymax: 1.0095, major: popMajorTicks, minor: popMinorTicks, xlabelY: 317, ylabelY: 166, sym: "c", sub: "k"},
  {top: 359.3, bottom: 570.5, ymin: -0.003, ymax: 0.549, major: cohMajorTicks, minor: cohMinorTicks, xlabelY: 618, ylabelY: 466, sym: "\u03C1", sub: "kl"}
];
const panelData = [
  [[granS0, granS1, granS2], [cohS0, cohS1, cohS2], [afsS0, afsS1, afsS2]],
  [[granC01, granC02, granC12], [cohC01, cohC02, cohC12], [afsC01, afsC02, afsC12]]
];

function drawPanel(r, c) {
  const L = colLayout[c], R = rowLayout[r];
  const x = d3.scaleLinear().domain([0, L.tmax]).range([L.x0, L.x1]);
  const y = d3.scaleLinear().domain([R.ymin, R.ymax]).range([R.bottom, R.top]);
  const g = svg.append("g");
  const clipId = `clip-${r}-${c}`;
  svg.append("clipPath").attr("id", clipId).append("rect")
    .attr("x", L.x0).attr("y", R.top).attr("width", L.x1 - L.x0).attr("height", R.bottom - R.top);

  const line = d3.line().x(d => x(d[0])).y(d => y(d[1]));
  const lines = g.append("g").attr("clip-path", `url(#${clipId})`);
  panelData[r][c].forEach((s, i) => {
    lines.append("path").datum(s).attr("d", line)
      .attr("fill", "none").attr("stroke", COLORS[i])
      .attr("stroke-width", 2).attr("stroke-linejoin", "round").attr("stroke-linecap", "butt");
  });

  // spines
  g.append("rect").attr("x", L.x0).attr("y", R.top)
    .attr("width", L.x1 - L.x0).attr("height", R.bottom - R.top)
    .attr("fill", "none").attr("stroke", "#000").attr("stroke-width", 1.9);

  // y axis: major with labels, minor without
  const yAx = g.append("g").attr("transform", `translate(${L.x0},0)`)
    .call(d3.axisLeft(y).tickValues(R.major).tickFormat(d3.format(".1f")).tickSize(4.5).tickPadding(6));
  yAx.select(".domain").remove();
  yAx.selectAll(".tick line").attr("x1", 4.5).attr("x2", -4.5).attr("stroke", "#000").attr("stroke-width", 1.6);
  yAx.selectAll(".tick text").attr("font-size", 15).attr("font-family", "Liberation Serif").attr("fill", "#222");
  const yMin = g.append("g").attr("transform", `translate(${L.x0},0)`)
    .call(d3.axisLeft(y).tickValues(R.minor).tickFormat("").tickSize(4));
  yMin.select(".domain").remove();
  yMin.selectAll(".tick line").attr("x1", 4).attr("x2", -4).attr("stroke", "#000").attr("stroke-width", 1.3);

  // x axis
  const xAx = g.append("g").attr("transform", `translate(0,${R.bottom})`)
    .call(d3.axisBottom(x).tickValues(L.major).tickFormat(d3.format("d")).tickSize(5).tickPadding(7));
  xAx.select(".domain").remove();
  xAx.selectAll(".tick line").attr("y1", -5).attr("y2", 5).attr("stroke", "#000").attr("stroke-width", 1.6);
  xAx.selectAll(".tick text").attr("font-size", 15).attr("font-family", "Liberation Serif").attr("fill", "#222");
  const xMin = g.append("g").attr("transform", `translate(0,${R.bottom})`)
    .call(d3.axisBottom(x).tickValues(L.minor).tickFormat("").tickSize(3.3));
  xMin.select(".domain").remove();
  xMin.selectAll(".tick line").attr("y1", -3.3).attr("y2", 3.3).attr("stroke", "#000").attr("stroke-width", 1.3);

  // x label
  const xl = g.append("text").attr("x", (L.x0 + L.x1) / 2).attr("y", R.xlabelY)
    .attr("text-anchor", "middle").attr("font-size", 16.5).attr("fill", "#222");
  xl.append("tspan").attr("font-style", "italic").text("t");
  xl.append("tspan").text(" (fs)");

  // y label
  const yl = g.append("text").attr("transform", `translate(${L.x0 - 44},${R.ylabelY}) rotate(-90)`)
    .attr("text-anchor", "middle").attr("font-size", 16.5).attr("fill", "#222");
  yl.append("tspan").text("|");
  yl.append("tspan").attr("font-style", "italic").text(R.sym);
  yl.append("tspan").attr("font-style", "italic").attr("font-size", 11.5).attr("dy", 4).text(R.sub);
  yl.append("tspan").attr("dy", -4).text("|");

  // panel letter
  svg.append("text").attr("x", L.x0 - 58).attr("y", R.top - 21)
    .attr("font-size", 26).attr("font-weight", "bold").attr("fill", "#000")
    .text(panelLetters[r][c]);

  if (r === 0) {
    svg.append("text").attr("x", (L.x0 + L.x1) / 2).attr("y", 33)
      .attr("text-anchor", "middle").attr("font-size", 26).attr("fill", "#111")
      .text(methods[c]);
  }
  return {x, y};
}

function drawLegend(box, rows, sym, subs) {
  const g = svg.append("g");
  g.append("rect").attr("x", box.x).attr("y", box.y).attr("width", box.w).attr("height", box.h)
    .attr("rx", 3).attr("fill", "#fff").attr("fill-opacity", 0.85)
    .attr("stroke", "#d4d4d4").attr("stroke-width", 1);
  subs.forEach((s, i) => {
    g.append("line").attr("x1", box.lx0).attr("x2", box.lx1).attr("y1", rows[i]).attr("y2", rows[i])
      .attr("stroke", COLORS[i]).attr("stroke-width", 2);
    const t = g.append("text").attr("x", box.tx).attr("y", rows[i] + 4.5).attr("font-size", 15).attr("fill", "#222");
    t.append("tspan").attr("font-style", "italic").text(sym);
    t.append("tspan").attr("font-size", 10.5).attr("dy", 3).text(s);
  });
}

for (let r = 0; r < 2; r++) for (let c = 0; c < 3; c++) drawPanel(r, c);

drawLegend({x: 335, y: 130, w: 70, h: 69, lx0: 340.7, lx1: 373.3, tx: 384.5}, [141.3, 162.7, 184], "S", popLegend);
drawLegend({x: 332.7, y: 431.7, w: 72.3, h: 69, lx0: 338.3, lx1: 370.7, tx: 382.5}, [443.3, 465, 487.7], "c", cohLegend);
</script>
</body></html>
